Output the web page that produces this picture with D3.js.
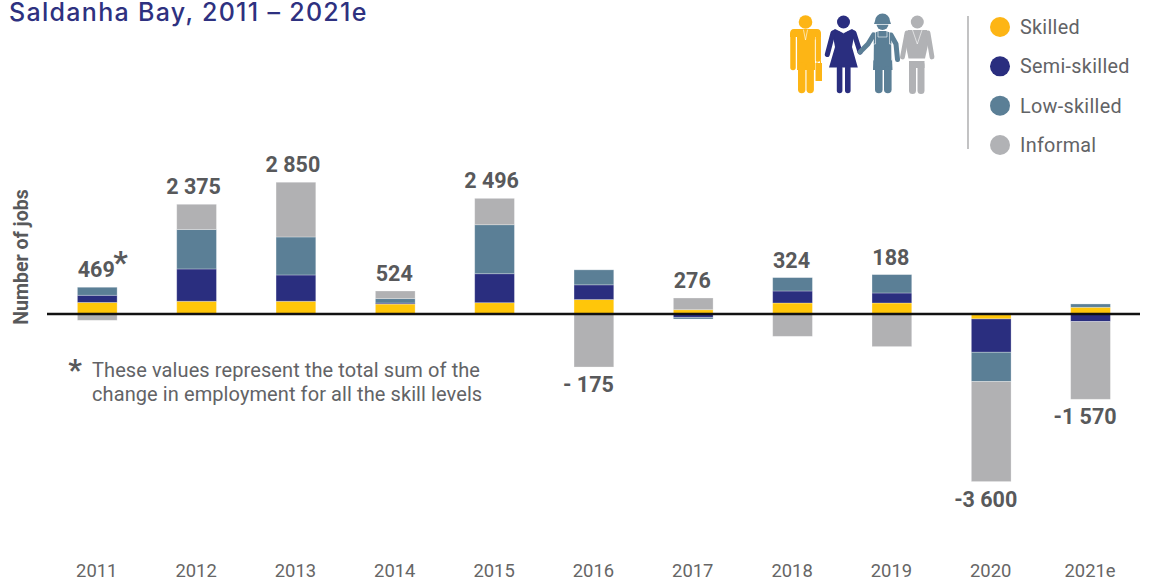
<!DOCTYPE html>
<html>
<head>
<meta charset="utf-8">
<script src="https://cdn.jsdelivr.net/npm/d3@7/dist/d3.min.js"></script>
<style>
    html, body { margin: 0; padding: 0; background: #fff; }
    svg { display: block; font-family: Roboto, sans-serif; }
    .tick text { font-family: Roboto, sans-serif; font-size: 18.4px; fill: #666; }
    .total { font-size: 21.5px; font-weight: 700; fill: #58595b; text-anchor: middle; }
    .note { font-size: 20px; fill: #626366; letter-spacing: .09px; }
    .legendLabel { font-size: 19.8px; fill: #626366; letter-spacing: .3px; }
</style>
</head>
<body>
<script>
    var years = ["2011", "2012", "2013", "2014", "2015", "2016", "2017", "2018", "2019", "2020", "2021e"];
    var skilled = [250, 275, 275, 215, 244, 312, 93, 238, 238, -106, 145];
    var semiSkilled = [155, 698, 568, 22, 626, 318, -72, 259, 216, -720, -164];
    var lowSkilled = [173, 851, 821, 95, 1058, 324, -36, 289, 397, -633, 72];
    var informal = [-136, 546, 1182, 165, 570, -1145, 253, -482, -704, -2160, -1678];
    var totalLabels = ["469", "2 375", "2 850", "524", "2 496", "- 175", "276", "324", "188", "-3 600", "-1 570"];

    var seriesKeys = ["skilled", "semiSkilled", "lowSkilled", "informal"];
    var seriesNames = ["Skilled", "Semi-skilled", "Low-skilled", "Informal"];
    var barColors = ["#ffc60a", "#2a2e7f", "#5b7f96", "#b1b1b3"];
    var legendColors = ["#fdb515", "#2a2e7f", "#5b7f96", "#b1b2b5"];

    var table = years.map(function(year, i) {
        return { year: year, skilled: skilled[i], semiSkilled: semiSkilled[i], lowSkilled: lowSkilled[i], informal: informal[i] };
    });

    var svg = d3.select("body").append("svg")
        .attr("width", 1168)
        .attr("height", 584);

    var x = d3.scaleBand()
        .domain(years)
        .range([47.6, 1140.2])
        .paddingInner(0.6)
        .paddingOuter(0.3);
    var y = d3.scaleLinear()
        .domain([-3600, 3000])
        .range([480.7, 175.1]);

    var stacked = d3.stack()
        .keys(seriesKeys)
        .offset(d3.stackOffsetDiverging)(table);

    svg.append("text")
        .attr("x", 9)
        .attr("y", 21)
        .attr("fill", "#2e3180")
        .style("font-family", "Inter, sans-serif")
        .style("font-size", "25px")
        .style("font-weight", 500)
        .style("letter-spacing", "1.3px")
        .text("Saldanha Bay, 2011 \u2013 2021e");

    svg.selectAll("g.series")
        .data(stacked)
        .enter().append("g")
        .attr("class", "series")
        .attr("fill", function(d, i) { return barColors[i]; })
        .selectAll("rect")
        .data(function(d) { return d; })
        .enter().append("rect")
        .attr("x", function(d) { return x(d.data.year); })
        .attr("width", x.bandwidth())
        .attr("y", function(d) { return y(Math.max(d[0], d[1])); })
        .attr("height", function(d) { return Math.abs(y(d[0]) - y(d[1])); })
        .attr("stroke", "#fff")
        .attr("stroke-opacity", 0.35)
        .attr("stroke-width", 0.8);

    svg.append("line")
        .attr("x1", 47)
        .attr("x2", 1140)
        .attr("y1", y(0))
        .attr("y2", y(0))
        .attr("stroke", "#111")
        .attr("stroke-width", 2.5);

    // totals sit above the stack, or below it for the negative years
    svg.selectAll("text.total")
        .data(totalLabels)
        .enter().append("text")
        .attr("class", "total")
        .attr("x", function(d, i) {
            var shift = d.charAt(0) == "-" ? 5.5 : (d.length > 3 ? 3 : 1);
            return x(years[i]) + x.bandwidth() / 2 - shift;
        })
        .attr("y", function(d, i) {
            var top = d3.max(stacked, function(s) { return s[i][1]; });
            var bottom = d3.min(stacked, function(s) { return s[i][0]; });
            return d.charAt(0) == "-" ? y(bottom) + 25 : y(top) - 10;
        })
        .text(function(d) { return d; });

    svg.append("text")
        .attr("class", "total")
        .attr("x", 120.5)
        .attr("y", 273)
        .style("font-size", "32px")
        .text("*");

    var axis = d3.axisBottom(x).tickSize(0).tickPadding(0);
    svg.append("g")
        .attr("transform", "translate(-0.5,563.5)")
        .call(axis)
        .call(function(g) { g.select(".domain").remove(); });

    svg.append("text")
        .attr("transform", "translate(27.5,257) rotate(-90)")
        .attr("text-anchor", "middle")
        .attr("fill", "#58595b")
        .style("font-size", "19.6px")
        .style("font-weight", 700)
        .text("Number of jobs");

    svg.append("text")
        .attr("class", "total")
        .attr("x", 75)
        .attr("y", 380)
        .style("font-size", "30px")
        .text("*");
    svg.append("text").attr("class", "note").attr("x", 92).attr("y", 377)
        .text("These values represent the total sum of the");
    svg.append("text").attr("class", "note").attr("x", 92).attr("y", 401)
        .text("change in employment for all the skill levels");

    // legend
    svg.append("line")
        .attr("x1", 968).attr("x2", 968)
        .attr("y1", 16).attr("y2", 149)
        .attr("stroke", "#9a9a9c")
        .attr("stroke-width", 1.2);

    var legendY = d3.scalePoint().domain(seriesNames).range([27, 145]);
    var legend = svg.selectAll("g.legendItem")
        .data(seriesNames)
        .enter().append("g")
        .attr("class", "legendItem")
        .attr("transform", function(d) { return "translate(1000," + legendY(d) + ")"; });
    legend.append("circle")
        .attr("r", 10)
        .attr("fill", function(d, i) { return legendColors[i]; });
    legend.append("text")
        .attr("class", "legendLabel")
        .attr("x", 20)
        .attr("y", 7)
        .text(function(d) { return d; });

    drawPeople(svg.append("g"));

    function limb(g, color, width, d) {
        g.append("path")
            .attr("d", d)
            .attr("fill", "none")
            .attr("stroke", color)
            .attr("stroke-width", width)
            .attr("stroke-linecap", "round")
            .attr("stroke-linejoin", "round");
    }

    function shape(g, color, d) {
        g.append("path").attr("d", d).attr("fill", color);
    }

    function drawPeople(g) {
        var yellow = legendColors[0], navy = legendColors[1], steel = legendColors[2], grey = legendColors[3];

        // man with briefcase
        g.append("circle").attr("cx", 805.5).attr("cy", 22).attr("r", 6.8).attr("fill", yellow);
        shape(g, yellow, "M794,29H817Q821,29 821,34V37H790V34Q790,29 794,29Z");
        shape(g, yellow, "M797,30H815V70H797Z");
        limb(g, yellow, 5.5, "M793,34V67.5");
        limb(g, yellow, 5.5, "M818.2,34V59");
        limb(g, yellow, 7.4, "M801.7,66V89.5");
        limb(g, yellow, 7.4, "M810.2,66V89.5");
        limb(g, "#fff", 0.7, "M796.6,40V69");
        limb(g, "#fff", 0.7, "M815.3,40V60");
        limb(g, "#fff", 0.6, "M803.5,30L805.5,40L807.5,30");
        shape(g, yellow, "M815.5,63H822V81H815.5Z");
        limb(g, yellow, 1, "M817,63V60.5H820.5V63");

        // woman
        g.append("circle").attr("cx", 843.5).attr("cy", 22).attr("r", 6.5).attr("fill", navy);
        shape(g, navy, "M835,29L843.5,33L852,29L855,31L852,47L857.8,67.5H829L835,47L832,31Z");
        limb(g, navy, 5, "M833,33L827.3,54.5");
        limb(g, navy, 5, "M854,33L860,52");
        limb(g, navy, 5.6, "M839.6,68V90.5");
        limb(g, navy, 5.6, "M847.8,68V90.5");
        limb(g, "#fff", 0.6, "M838,29.5L843.5,33L849,29.5");

        // worker
        g.append("circle").attr("cx", 882.5).attr("cy", 24).attr("r", 6).attr("fill", steel);
        shape(g, steel, "M875,21A7.5,7.5 0 0 1 890,21L891,24H874Z");
        limb(g, "#fff", 0.7, "M874,24.5H891");
        shape(g, steel, "M874,33L879,31H886L891,33L892.5,70H873Z");
        limb(g, steel, 5, "M873.5,35L868,44L860,52");
        limb(g, steel, 5, "M891,35L896,44L897.5,59.5");
        limb(g, steel, 7.6, "M878.8,70V89.5");
        limb(g, steel, 7.6, "M887.8,70V89.5");
        limb(g, "#fff", 0.6, "M875.5,32V44H873.5V60");
        limb(g, "#fff", 0.6, "M889.5,32V44H891.5V60");
        limb(g, "#fff", 0.6, "M878,31V37H887V31");

        // grey man in suit
        g.append("circle").attr("cx", 917.3).attr("cy", 22).attr("r", 6.5).attr("fill", grey);
        shape(g, grey, "M908,30H927L930,36L925,58.5H908.5L904,36Z");
        limb(g, grey, 4.8, "M907,33L902.5,57");
        limb(g, grey, 4.8, "M928,33L932,57");
        limb(g, "#fff", 0.6, "M912.5,30L917.3,44L922,30");
        limb(g, grey, 7, "M912.5,65V90.5");
        limb(g, grey, 7, "M921,65V90.5");
        shape(g, grey, "M909,61H924.5V68H909Z");
    }
</script>
</body>
</html>
